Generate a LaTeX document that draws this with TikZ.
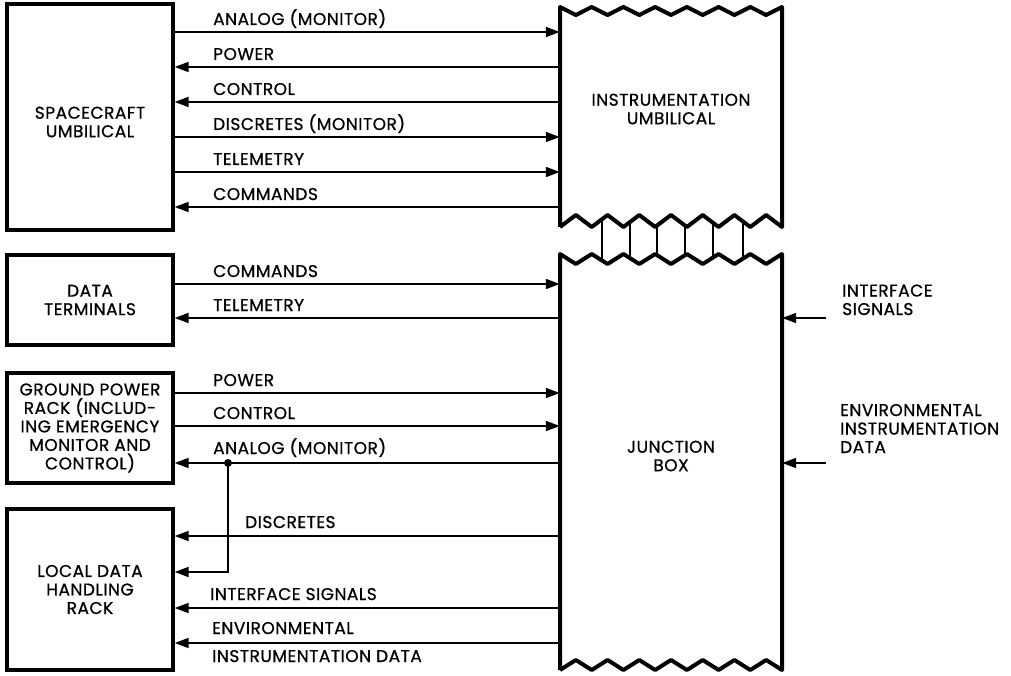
\documentclass[tikz,border=0pt]{standalone}
\usepackage{fontspec}
\setmainfont{Poppins}[LetterSpace=3,FakeBold=0.8]
\usetikzlibrary{arrows.meta}
\begin{document}
\begin{tikzpicture}[x=1pt,y=-1pt,
  every node/.style={font=\fontsize{17}{18.5}\selectfont},
  box/.style={draw, line width=3.3pt, inner sep=0pt, align=center, minimum width=166pt},
  area/.style={inner sep=0pt, minimum width=222pt},
  txt/.style={align=center, inner sep=0pt},
  sig/.style={line width=1.8pt, -{Triangle[length=14pt,width=10pt]}},
  lab/.style={anchor=base west, inner sep=0pt},
  side/.style={anchor=base west, align=left, inner sep=0pt},
  edge/.style={line width=4pt, line join=round},
  tie/.style={line width=1.8pt}]
\useasboundingbox (0,0) rectangle (1011,676);

% left boxes
\node[box, minimum height=226pt] (sc) at (90,117) {};
\node[txt] (sct) at (90,122) {SPACECRAFT\\UMBILICAL};
\node[box, minimum height=90pt] (dt) at (90,300) {DATA\\TERMINALS};
\node[box, minimum height=110pt] (gp) at (90,428) {GROUND POWER\\RACK (INCLUD-\\ING EMERGENCY\\MONITOR AND\\CONTROL)};
\node[box, minimum height=161pt] (ld) at (90,589.5) {LOCAL DATA\\HANDLING\\RACK};

% big boxes (areas)
\node[area, minimum height=214pt] (iu) at (671,120) {};
\node[txt] (iut) at (671,109) {INSTRUMENTATION\\UMBILICAL};
\node[area, minimum height=410pt] (jb) at (671,462) {};
\node[txt] (jbt) at (671,456) {JUNCTION\\BOX};

% ties between the two big boxes
\begin{scope}
\clip (560,227) \foreach \k in {1,...,14}{ -- ({560+\k*222/14},{221+6*cos(180*\k)}) }
      -- (782,254) \foreach \k in {13,...,0}{ -- ({560+\k*222/14},{259-5*cos(180*\k)}) } -- cycle;
\foreach \xx in {602,630,657,685,713,743} \draw[tie] (\xx,200) -- (\xx,280);
\end{scope}

% outlines of the big boxes
\draw[edge] (560,227) -- (560,7) \foreach \k in {1,...,14}{ -- ({560+\k*222/14},{11-4*cos(180*\k)}) }
  -- (782,227) \foreach \k in {13,...,0}{ -- ({560+\k*222/14},{221+6*cos(180*\k)}) };
\draw[edge] (560,670) -- (560,254) \foreach \k in {1,...,14}{ -- ({560+\k*222/14},{259-5*cos(180*\k)}) }
  -- (782,670) \foreach \k in {13,...,0}{ -- ({560+\k*222/14},{665+5*cos(180*\k)}) };

% spacecraft umbilical signals
\draw[sig] (sc.east |- 0,32) -- (iu.west |- 0,32);
\draw[sig] (iu.west |- 0,67) -- (sc.east |- 0,67);
\draw[sig] (iu.west |- 0,102) -- (sc.east |- 0,102);
\draw[sig] (sc.east |- 0,137) -- (iu.west |- 0,137);
\draw[sig] (sc.east |- 0,172) -- (iu.west |- 0,172);
\draw[sig] (iu.west |- 0,207) -- (sc.east |- 0,207);
\node[lab] (l1) at (213,25) {ANALOG (MONITOR)};
\node[lab] (l2) at (213,60) {POWER};
\node[lab] (l3) at (213,95) {CONTROL};
\node[lab] (l4) at (213,130) {DISCRETES (MONITOR)};
\node[lab] (l5) at (213,165) {TELEMETRY};
\node[lab] (l6) at (213,200) {COMMANDS};

% data terminals
\draw[sig] (dt.east |- 0,284) -- (jb.west |- 0,284);
\draw[sig] (jb.west |- 0,318) -- (dt.east |- 0,318);
\node[lab] (l7) at (213,277) {COMMANDS};
\node[lab] (l8) at (213,311) {TELEMETRY};

% ground power rack
\draw[sig] (gp.east |- 0,393) -- (jb.west |- 0,393);
\draw[sig] (gp.east |- 0,426) -- (jb.west |- 0,426);
\draw[sig] (jb.west |- 0,463) -- (gp.east |- 0,463);
\node[lab] (l9) at (213,386) {POWER};
\node[lab] (l10) at (213,419) {CONTROL};
\node[lab] (l11) at (213,454) {ANALOG (MONITOR)};

% local data handling rack
\coordinate (br) at (228,463);
\fill (br) circle (4);
\draw[sig] (br) |- (ld.east |- 0,572);
\draw[sig] (jb.west |- 0,536) -- (ld.east |- 0,536);
\draw[sig] (jb.west |- 0,608) -- (ld.east |- 0,608);
\draw[sig] (jb.west |- 0,643) -- (ld.east |- 0,643);
\node[lab] (l12) at (245,528) {DISCRETES};
\node[lab] (l13) at (210,600) {INTERFACE SIGNALS};
\node[lab] (l14) at (212,634) {ENVIRONMENTAL};
\node[lab] (l15) at (212,662) {INSTRUMENTATION DATA};

% right side inputs
\coordinate (is) at (826,318);
\coordinate (en) at (826,463);
\draw[sig] (is) -- (jb.east |- is);
\draw[sig] (en) -- (jb.east |- en);
\node[side] (r1) at (842,315) {INTERFACE\\SIGNALS};
\node[side] (r2) at (840,453) {ENVIRONMENTAL\\INSTRUMENTATION\\DATA};
\end{tikzpicture}
\end{document}
